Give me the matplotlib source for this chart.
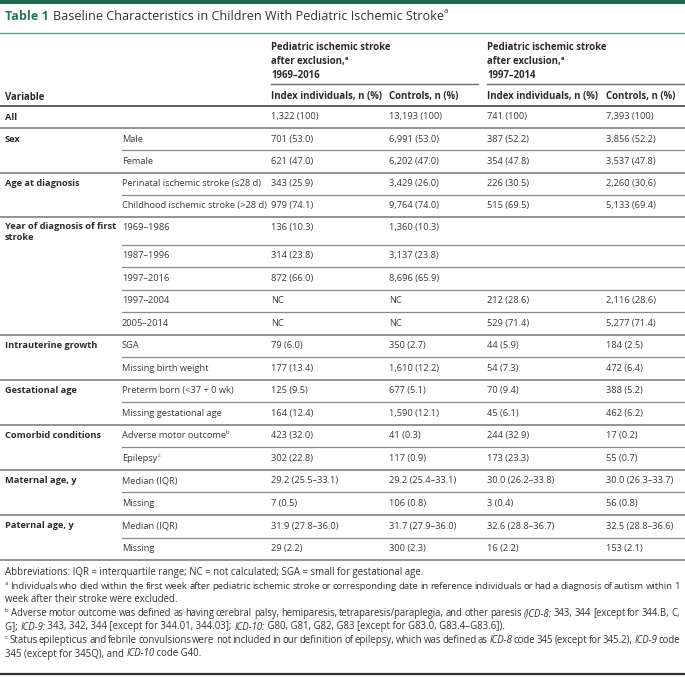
import matplotlib
matplotlib.use("Agg")
import matplotlib.pyplot as plt
from matplotlib.font_manager import FontProperties
from matplotlib.patches import Rectangle

# table content
title_num = "Table 1"
title_text = "Baseline Characteristics in Children With Pediatric Ischemic Stroke"

group_labels = ["All", "Sex", "Age at diagnosis", "Year of diagnosis of first\nstroke",
                "Intrauterine growth", "Gestational age", "Comorbid conditions",
                "Maternal age, y", "Paternal age, y"]
group_sizes = [1, 2, 2, 5, 2, 2, 2, 2, 2]

sub_labels = ["", "Male", "Female", "Perinatal ischemic stroke (≤28 d)",
              "Childhood ischemic stroke (>28 d)", "1969–1986", "1987–1996", "1997–2016",
              "1997–2004", "2005–2014", "SGA", "Missing birth weight",
              "Preterm born (<37 + 0 wk)", "Missing gestational age",
              "Adverse motor outcome", "Epilepsy", "Median (IQR)", "Missing",
              "Median (IQR)", "Missing"]
sub_sup = {14: "b", 15: "c"}

idx_1969 = ["1,322 (100)", "701 (53.0)", "621 (47.0)", "343 (25.9)", "979 (74.1)",
            "136 (10.3)", "314 (23.8)", "872 (66.0)", "NC", "NC", "79 (6.0)",
            "177 (13.4)", "125 (9.5)", "164 (12.4)", "423 (32.0)", "302 (22.8)",
            "29.2 (25.5–33.1)", "7 (0.5)", "31.9 (27.8–36.0)", "29 (2.2)"]
ctrl_1969 = ["13,193 (100)", "6,991 (53.0)", "6,202 (47.0)", "3,429 (26.0)", "9,764 (74.0)",
             "1,360 (10.3)", "3,137 (23.8)", "8,696 (65.9)", "NC", "NC", "350 (2.7)",
             "1,610 (12.2)", "677 (5.1)", "1,590 (12.1)", "41 (0.3)", "117 (0.9)",
             "29.2 (25.4–33.1)", "106 (0.8)", "31.7 (27.9–36.0)", "300 (2.3)"]
idx_1997 = ["741 (100)", "387 (52.2)", "354 (47.8)", "226 (30.5)", "515 (69.5)",
            "", "", "", "212 (28.6)", "529 (71.4)", "44 (5.9)", "54 (7.3)",
            "70 (9.4)", "45 (6.1)", "244 (32.9)", "173 (23.3)",
            "30.0 (26.2–33.8)", "3 (0.4)", "32.6 (28.8–36.7)", "16 (2.2)"]
ctrl_1997 = ["7,393 (100)", "3,856 (52.2)", "3,537 (47.8)", "2,260 (30.6)", "5,133 (69.4)",
             "", "", "", "2,116 (28.6)", "5,277 (71.4)", "184 (2.5)", "472 (6.4)",
             "388 (5.2)", "462 (6.2)", "17 (0.2)", "55 (0.7)",
             "30.0 (26.3–33.7)", "56 (0.8)", "32.5 (28.8–36.6)", "153 (2.1)"]

header_group = ["Pediatric ischemic stroke", "after exclusion,", "1969–2016"]
header_group2 = ["Pediatric ischemic stroke", "after exclusion,", "1997–2014"]
col_headers = ["Index individuals, n (%)", "Controls, n (%)",
               "Index individuals, n (%)", "Controls, n (%)"]

# footnotes: (pieces, justify); piece kinds: n normal, i italic, s superscript
footnotes = [
    ([("Abbreviations: IQR = interquartile range; NC = not calculated; SGA = small for gestational age.", "n")], False),
    ([("a", "s"), (" Individuals who died within the first week after pediatric ischemic stroke or corresponding date in reference individuals or had a diagnosis of autism within 1", "n")], True),
    ([("week after their stroke were excluded.", "n")], False),
    ([("b", "s"), (" Adverse motor outcome was defined as having cerebral palsy, hemiparesis, tetraparesis/paraplegia, and other paresis ", "n"),
      ("(ICD-8:", "i"), (" 343, 344 [except for 344.B, C,", "n")], True),
    ([("G]; ", "n"), ("ICD-9:", "i"), (" 343, 342, 344 [except for 344.01, 344.03]; ", "n"), ("ICD-10:", "i"),
      (" G80, G81, G82, G83 [except for G83.0, G83.4–G83.6]).", "n")], False),
    ([("c", "s"), (" Status epilepticus and febrile convulsions were not included in our definition of epilepsy, which was defined as ", "n"),
      ("ICD-8", "i"), (" code 345 (except for 345.2), ", "n"), ("ICD-9", "i"), (" code", "n")], True),
    ([("345 (except for 345Q), and ", "n"), ("ICD-10", "i"), (" code G40.", "n")], False),
]

FAM = ["Open Sans", "DejaVu Sans"]
W, H = 685, 678
fig = plt.figure(figsize=(W / 100, H / 100), dpi=100)
ax = fig.add_axes([0, 0, 1, 1])
ax.set_xlim(0, W)
ax.set_ylim(H, 0)
ax.axis("off")
renderer = fig.canvas.get_renderer()

TXT = "#3a3a3a"
BOLD = "#2b2b2b"
GREEN = "#1f7a55"


def text_width(s, size, weight="normal", style="normal"):
    fp = FontProperties(family=FAM, size=size, weight=weight, style=style)
    w1 = renderer.get_text_width_height_descent("|" + s + "|", fp, False)[0]
    w0 = renderer.get_text_width_height_descent("||", fp, False)[0]
    return w1 - w0


def seg_width(segs, size):
    return sum(text_width(s, size * (0.62 if k == "s" else 1), "normal",
                          "italic" if k == "i" else "normal") for s, k in segs)


def rich(x, y, pieces, size, color=TXT, weight="normal"):
    for s, kind in pieces:
        style = "italic" if kind == "i" else "normal"
        sz = size * 0.62 if kind == "s" else size
        yy = y - size * 0.45 if kind == "s" else y
        ax.text(x, yy, s, fontsize=sz, family=FAM, color=color, weight=weight,
                style=style, va="center", ha="left")
        x += text_width(s, sz, weight, style)
    return x


def justified(x, y, pieces, size, width, color):
    # split into words, keep the style of each part
    words = [[]]
    for s, k in pieces:
        parts = s.split(" ")
        for j, p in enumerate(parts):
            if j > 0:
                words.append([])
            if p:
                words[-1].append((p, k))
    words = [w for w in words if w]
    n = len(words) - 1
    sp = text_width(" ", size)
    total = sum(seg_width(w, size) for w in words)
    need = total + n * 0.55 * sp
    if need > width:
        size = size * width / need
    total = sum(seg_width(w, size) for w in words)
    gap = (width - total) / n
    for w in words:
        rich(x, y, w, size, color=color)
        x += seg_width(w, size) + gap


# top bar, title and title rule
ax.add_patch(Rectangle((0, 0), W, 4, color="#1d6b4c", lw=0))
x = rich(5, 16, [(title_num, "n")], 9.1, color=GREEN, weight="bold")
rich(x + 4, 16, [(title_text, "n"), ("a", "s")], 9.1, color="#333333")
ax.plot([0, W], [32.5, 32.5], color="#5fa183", lw=1.0)

# column positions
xg, xs = 5, 122
xc = [271, 389, 487, 606]

# header
hs = 6.9
for gx, lines in zip([xc[0], xc[2]], [header_group, header_group2]):
    for k, line in enumerate(lines):
        yy = 48 + k * 13.5
        if k == 1:
            rich(gx, yy, [(line, "n"), ("a", "s")], hs, color=BOLD, weight="bold")
        else:
            ax.text(gx, yy, line, fontsize=hs, family=FAM, weight="bold", color=BOLD, va="center")
ax.plot([xc[0], 478], [84, 84], color="#6a6a6a", lw=1.0)
ax.plot([xc[2], W], [84, 84], color="#6a6a6a", lw=1.0)
ax.text(xg, 97, "Variable", fontsize=hs, family=FAM, weight="bold", color=BOLD, va="center")
for cx, lab in zip(xc, col_headers):
    ax.text(cx, 97, lab, fontsize=hs, family=FAM, weight="bold", color=BOLD, va="center")
ax.plot([0, W], [106, 106], color="#555555", lw=1.3)

# body rows
fs = 6.7
n_rows = len(sub_labels)
heights = [22.2] * 5 + [28.0] + [22.5] * (n_rows - 6)
group_ends = []
acc = 0
for g in group_sizes:
    acc += g
    group_ends.append(acc - 1)
group_starts = [e - g + 1 for e, g in zip(group_ends, group_sizes)]

top = 106
for r in range(n_rows):
    yy = top + 11
    if r in group_starts:
        gi = group_starts.index(r)
        two = "\n" in group_labels[gi]
        ax.text(xg, yy - 5.8 if two else yy, group_labels[gi], fontsize=fs, family=FAM,
                weight="bold", color=BOLD, va="top" if two else "center", linespacing=1.2)
    if r in sub_sup:
        rich(xs, yy, [(sub_labels[r], "n"), (sub_sup[r], "s")], fs)
    else:
        ax.text(xs, yy, sub_labels[r], fontsize=fs, family=FAM, color=TXT, va="center")
    for cx, col in zip(xc, [idx_1969, ctrl_1969, idx_1997, ctrl_1997]):
        ax.text(cx, yy, col[r], fontsize=fs, family=FAM, color=TXT, va="center")
    top += heights[r]
    if r in group_ends:
        ax.plot([0, W], [top, top], color="#8a8a8a", lw=1.3)
    else:
        ax.plot([xs, W], [top, top], color="#8a8a8a", lw=0.9)

# footnotes
ffs = 6.9
fy = 573
for pieces, justify in footnotes:
    if justify:
        justified(5, fy, pieces, ffs, 675, "#333333")
    else:
        rich(5, fy, pieces, ffs, color="#333333")
    fy += 13.5

ax.plot([0, W], [673.5, 673.5], color="#333333", lw=1.6)

fig.savefig("out.png", dpi=100)
